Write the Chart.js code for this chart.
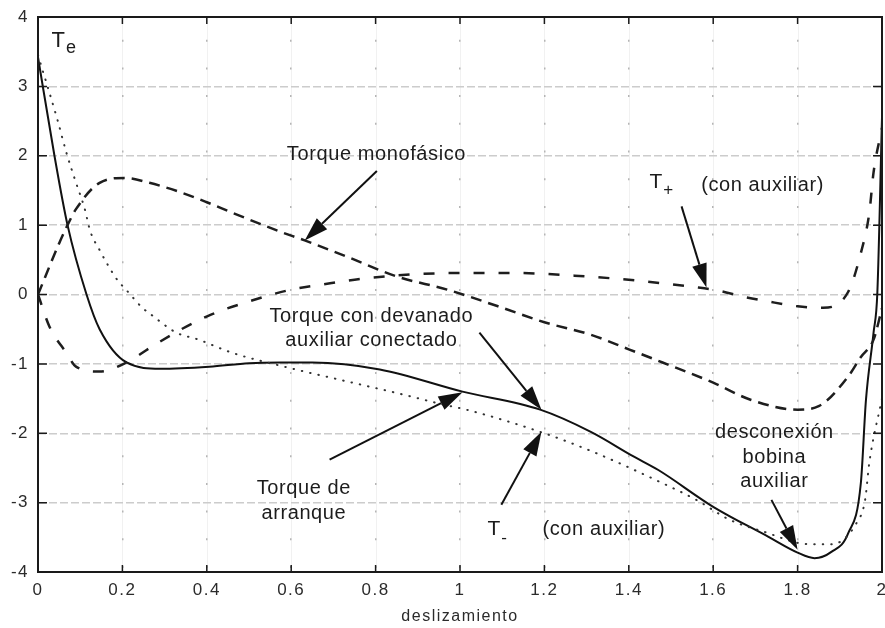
<!DOCTYPE html>
<html>
<head>
<meta charset="utf-8">
<script src="https://cdn.jsdelivr.net/npm/chart.js@4/dist/chart.umd.min.js"></script>
<style>
  html, body { margin: 0; padding: 0; background: #fff; }
  #wrap { width: 885px; height: 628px; position: relative; }
</style>
</head>
<body>
<div id="wrap"><canvas id="torque-chart"></canvas></div>
<script>
// slip values and torques
const conectadoX = [0, 0.039, 0.07, 0.115, 0.146, 0.21, 0.29, 0.406, 0.5, 0.574, 0.65, 0.81, 1.006, 1.19, 1.31, 1.41, 1.47, 1.6, 1.73, 1.8, 1.84, 1.88, 1.92, 1.95, 1.962, 1.98, 1.989, 2.0];
const conectadoY = [3.42, 2.0, 1.0, 0.0, -0.5, -0.98, -1.07, -1.04, -0.99, -0.98, -0.98, -1.08, -1.40, -1.66, -1.98, -2.33, -2.53, -3.06, -3.49, -3.72, -3.80, -3.71, -3.44, -2.71, -1.52, -0.55, 0.03, 2.55];

const tMenosX = [0, 0.046, 0.067, 0.089, 0.11, 0.124, 0.146, 0.167, 0.188, 0.21, 0.247, 0.268, 0.328, 0.38, 0.46, 0.59, 0.73, 0.85, 0.97, 1.015, 1.19, 1.32, 1.48, 1.56, 1.64, 1.73, 1.80, 1.84, 1.88, 1.94, 1.96, 1.97, 2.0];
const tMenosY = [3.45, 2.52, 2.05, 1.63, 1.25, 0.91, 0.64, 0.41, 0.21, 0.06, -0.19, -0.29, -0.55, -0.65, -0.84, -1.05, -1.25, -1.42, -1.60, -1.66, -1.98, -2.28, -2.72, -2.96, -3.25, -3.44, -3.58, -3.60, -3.60, -3.29, -2.96, -2.42, -1.5];

const monoX = [0, 0.051, 0.07, 0.09, 0.146, 0.205, 0.264, 0.33, 0.40, 0.46, 0.572, 0.632, 0.73, 0.85, 0.97, 1.09, 1.20, 1.31, 1.40, 1.48, 1.60, 1.69, 1.80, 1.85, 1.92, 1.95, 1.98, 2.0];
const monoY = [0, 0.75, 1.0, 1.23, 1.61, 1.68, 1.61, 1.49, 1.33, 1.18, 0.91, 0.78, 0.55, 0.26, 0.07, -0.17, -0.40, -0.58, -0.79, -0.98, -1.27, -1.52, -1.66, -1.61, -1.18, -0.9, -0.65, -0.2];

const tMasX = [0, 0.027, 0.067, 0.09, 0.146, 0.21, 0.27, 0.34, 0.41, 0.50, 0.60, 0.67, 0.77, 0.89, 0.99, 1.13, 1.30, 1.42, 1.55, 1.61, 1.67, 1.73, 1.80, 1.86, 1.92, 1.95, 1.97, 1.98, 2.0];
const tMasY = [0, -0.46, -0.84, -1.04, -1.11, -0.98, -0.75, -0.50, -0.29, -0.10, 0.07, 0.14, 0.23, 0.29, 0.31, 0.31, 0.26, 0.20, 0.11, 0.06, -0.03, -0.10, -0.17, -0.19, 0.04, 0.6, 1.18, 1.76, 2.4];

const xTickLabels = ["0", "0.2", "0.4", "0.6", "0.8", "1", "1.2", "1.4", "1.6", "1.8", "2"];
const yTickLabels = ["-4", "-3", "-2", "-1", "0", "1", "2", "3", "4"];

const pts = (xs, ys) => xs.map((x, i) => ({ x: x, y: ys[i] }));

// labels and arrows, in data units
const notes = [
  { text: "Torque monofásico", x: 0.802, y: 2.02 },
  { text: "(con auxiliar)", x: 1.717, y: 1.57 },
  { text: "Torque con devanado", x: 0.79, y: -0.32 },
  { text: "auxiliar conectado", x: 0.79, y: -0.66 },
  { text: "Torque de", x: 0.63, y: -2.80 },
  { text: "arranque", x: 0.63, y: -3.15 },
  { text: "(con auxiliar)", x: 1.341, y: -3.39 },
  { text: "desconexión", x: 1.745, y: -1.99 },
  { text: "bobina", x: 1.745, y: -2.35 },
  { text: "auxiliar", x: 1.745, y: -2.70 },
];
const arrows = [
  { from: [0.803, 1.78], to: [0.632, 0.78] },
  { from: [1.525, 1.27], to: [1.584, 0.10] },
  { from: [1.046, -0.55], to: [1.193, -1.66] },
  { from: [0.691, -2.38], to: [1.006, -1.41] },
  { from: [1.098, -3.03], to: [1.193, -1.98] },
  { from: [1.738, -2.96], to: [1.800, -3.68] },
];

const FONT = "'Liberation Sans', Arial, sans-serif";

const decorations = {
  id: "decorations",
  beforeDraw(chart) {
    const { ctx, chartArea: a, scales: { x } } = chart;
    ctx.save();
    ctx.fillStyle = "#fff";
    ctx.fillRect(0, 0, chart.width, chart.height);
    ctx.strokeStyle = "#f1f1f1";
    ctx.lineWidth = 1;
    x.ticks.forEach((t) => {
      const px = Math.round(x.getPixelForValue(t.value)) + 0.5;
      ctx.beginPath();
      ctx.moveTo(px, a.top);
      ctx.lineTo(px, a.bottom);
      ctx.stroke();
    });
    ctx.restore();
    ctx.letterSpacing = "1.5px";
  },
  afterDatasetsDraw(chart) {
    const { ctx, chartArea: a, scales: { x, y } } = chart;
    ctx.save();
    // frame
    ctx.strokeStyle = "#1a1a1a";
    ctx.lineWidth = 2;
    ctx.strokeRect(a.left, a.top, a.right - a.left, a.bottom - a.top);
    // inward ticks
    ctx.lineWidth = 1.5;
    ctx.beginPath();
    x.ticks.forEach((t) => {
      const px = x.getPixelForValue(t.value);
      ctx.moveTo(px, a.bottom); ctx.lineTo(px, a.bottom - 7);
      ctx.moveTo(px, a.top); ctx.lineTo(px, a.top + 7);
    });
    y.ticks.forEach((t) => {
      const py = y.getPixelForValue(t.value);
      ctx.moveTo(a.left, py); ctx.lineTo(a.left + 9, py);
      ctx.moveTo(a.right, py); ctx.lineTo(a.right - 9, py);
    });
    ctx.stroke();

    // arrows
    ctx.strokeStyle = "#111";
    ctx.fillStyle = "#111";
    arrows.forEach((ar) => {
      const x1 = x.getPixelForValue(ar.from[0]), y1 = y.getPixelForValue(ar.from[1]);
      const x2 = x.getPixelForValue(ar.to[0]), y2 = y.getPixelForValue(ar.to[1]);
      const ang = Math.atan2(y2 - y1, x2 - x1);
      const len = 24, half = 7.5;
      const bx = x2 - len * Math.cos(ang), by = y2 - len * Math.sin(ang);
      ctx.lineWidth = 2;
      ctx.beginPath();
      ctx.moveTo(x1, y1);
      ctx.lineTo(bx, by);
      ctx.stroke();
      ctx.beginPath();
      ctx.moveTo(x2, y2);
      ctx.lineTo(bx + half * Math.sin(ang), by - half * Math.cos(ang));
      ctx.lineTo(bx - half * Math.sin(ang), by + half * Math.cos(ang));
      ctx.closePath();
      ctx.fill();
    });

    // text
    ctx.fillStyle = "#1c1c1c";
    ctx.textBaseline = "middle";
    ctx.textAlign = "center";
    ctx.letterSpacing = "0.6px";
    ctx.font = "20px " + FONT;
    notes.forEach((n) => {
      ctx.fillText(n.text, x.getPixelForValue(n.x), y.getPixelForValue(n.y));
    });
    // symbols with subscripts
    ctx.letterSpacing = "0px";
    ctx.textAlign = "left";
    const sym = (main, sub, sx, sy, size, dy) => {
      const px = x.getPixelForValue(sx), py = y.getPixelForValue(sy);
      ctx.font = size + "px " + FONT;
      ctx.fillText(main, px, py);
      const w = ctx.measureText(main).width;
      ctx.font = Math.round(size * 0.8) + "px " + FONT;
      ctx.fillText(sub, px + w + 1, py + dy);
    };
    sym("T", "e", 0.032, 3.65, 22, 7);
    sym("T", "+", 1.449, 1.62, 21, 8);
    sym("T", "-", 1.065, -3.39, 21, 9);
    ctx.restore();
  },
  afterDraw(chart) {
    chart.ctx.letterSpacing = "0px";
  },
};

const ctx = document.getElementById("torque-chart").getContext("2d");
const torqueChart = new Chart(ctx, {
  type: "line",
  data: {
    datasets: [
      {
        label: "Torque monofásico",
        data: pts(monoX, monoY),
        borderColor: "#1e1e1e",
        borderWidth: 2.5,
        borderDash: [11, 7],
        cubicInterpolationMode: "monotone",
        pointRadius: 0,
      },
      {
        label: "T+ (con auxiliar)",
        data: pts(tMasX, tMasY),
        borderColor: "#1e1e1e",
        borderWidth: 2.5,
        borderDash: [11, 14],
        cubicInterpolationMode: "monotone",
        pointRadius: 0,
      },
      {
        label: "T- (con auxiliar)",
        data: pts(tMenosX, tMenosY),
        borderColor: "#333",
        borderWidth: 2,
        borderDash: [0.5, 8],
        borderCapStyle: "round",
        cubicInterpolationMode: "monotone",
        pointRadius: 0,
      },
      {
        label: "Torque con devanado auxiliar conectado",
        data: pts(conectadoX, conectadoY),
        borderColor: "#111",
        borderWidth: 2,
        cubicInterpolationMode: "monotone",
        pointRadius: 0,
      },
    ],
  },
  options: {
    responsive: true,
    maintainAspectRatio: false,
    animation: false,
    layout: {
      padding: { left: 0, right: 3, top: 17, bottom: 0 },
    },
    scales: {
      x: {
        type: "linear",
        min: 0,
        max: 2,
        border: { display: false },
        ticks: {
          stepSize: 0.2,
          color: "#2b2b2b",
          padding: 8,
          maxRotation: 0,
          autoSkip: false,
          font: { family: FONT, size: 17 },
          callback: (v, i) => xTickLabels[i],
        },
        grid: {
          drawTicks: false,
          color: "#b5b5b5",
          lineWidth: 1.5,
        },
        title: {
          display: true,
          text: "deslizamiento",
          color: "#2b2b2b",
          padding: { top: 0, bottom: 2 },
          font: { family: FONT, size: 16 },
        },
        afterFit: (scale) => {
          scale.height = 56;
          scale.paddingLeft = 0;
          scale.paddingRight = 0;
        },
      },
      y: {
        min: -4,
        max: 4,
        border: { display: false },
        ticks: {
          stepSize: 1,
          color: "#2b2b2b",
          padding: 9,
          font: { family: FONT, size: 17 },
          callback: (v, i) => yTickLabels[i],
        },
        grid: {
          drawTicks: false,
          color: "#cccccc",
          lineWidth: 1.5,
        },
        afterFit: (scale) => {
          scale.width = 38;
          scale.paddingTop = 0;
          scale.paddingBottom = 0;
        },
      },
    },
    plugins: {
      legend: { display: false },
      tooltip: { enabled: false },
    },
  },
  plugins: [decorations],
});

// gridline dash patterns
torqueChart.options.scales.x.border.dash = [2, 25.7];
torqueChart.options.scales.x.border.dashOffset = 5;
torqueChart.options.scales.y.border.dash = [8, 3];
torqueChart.update();
</script>
</body>
</html>
